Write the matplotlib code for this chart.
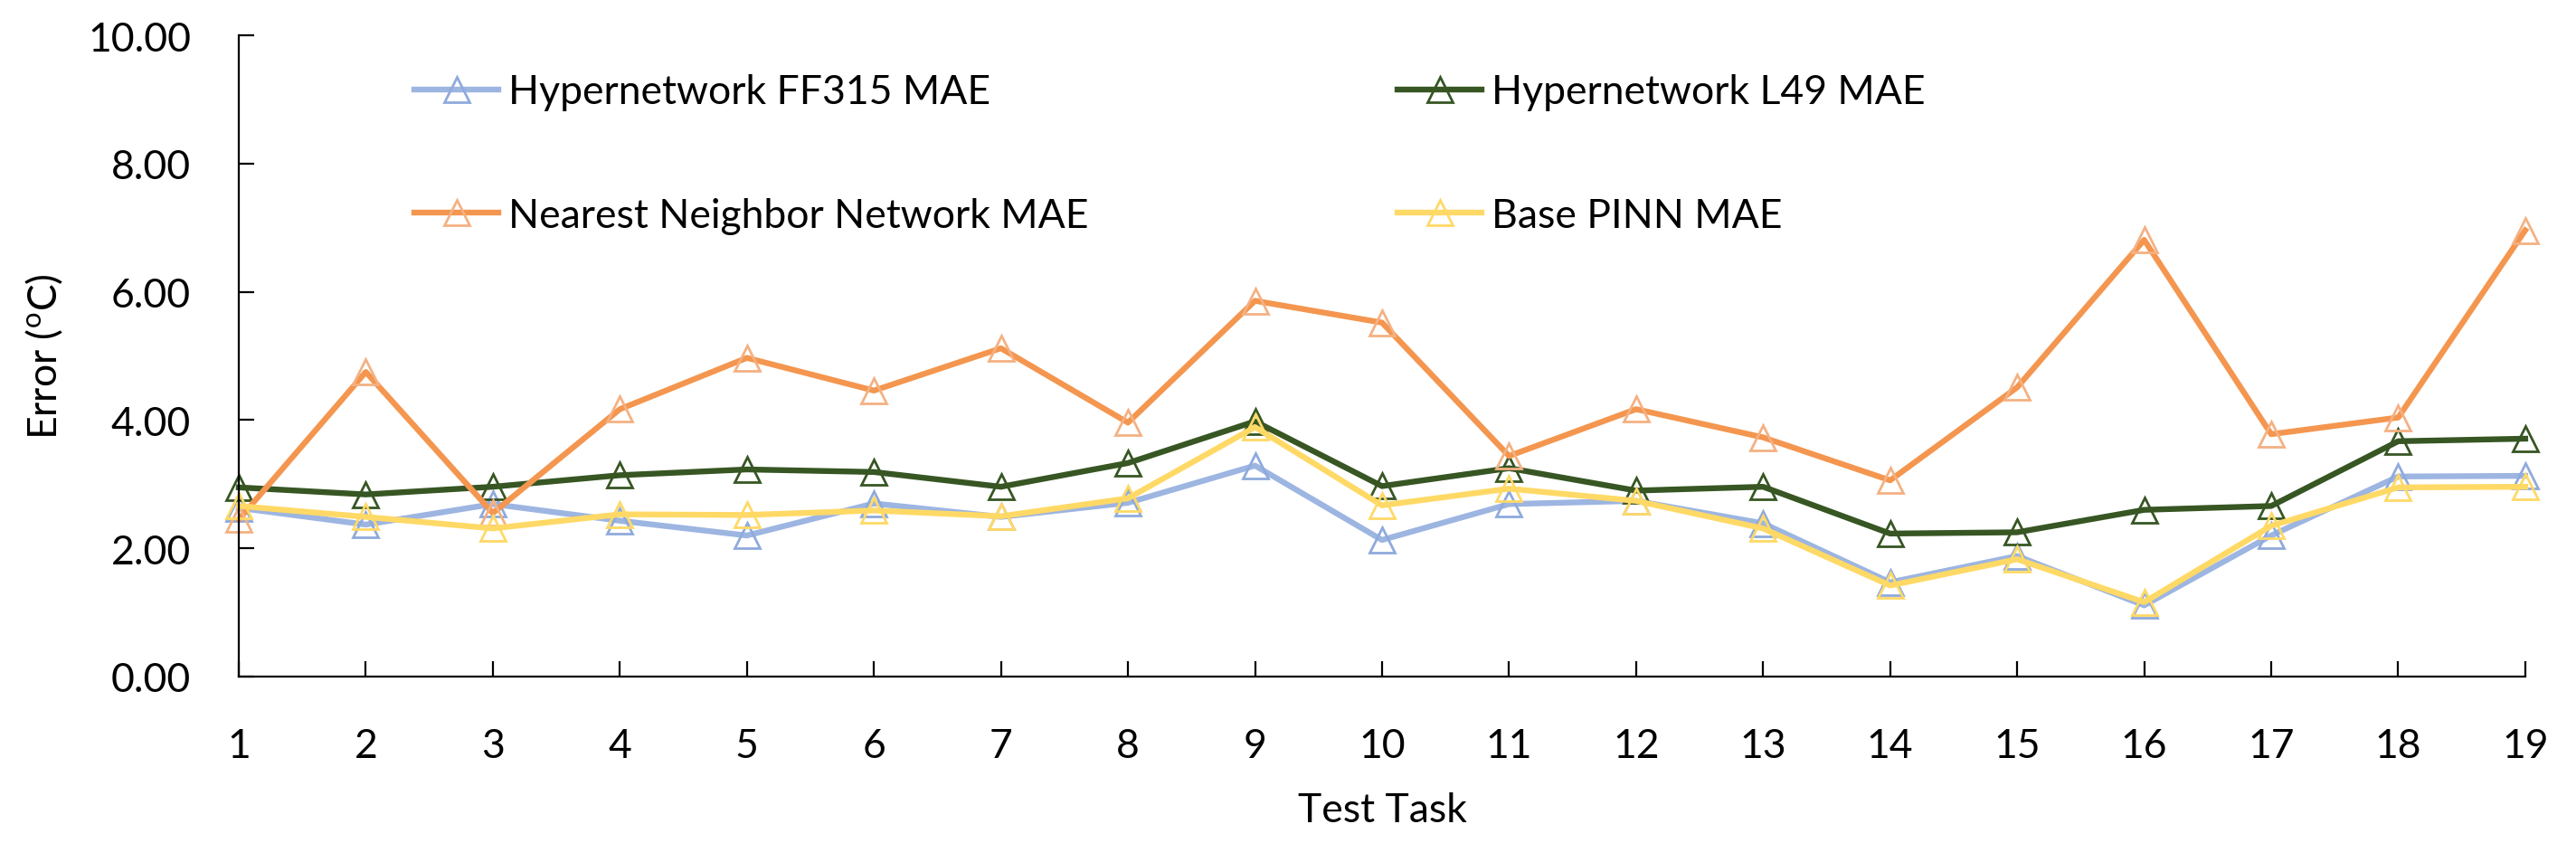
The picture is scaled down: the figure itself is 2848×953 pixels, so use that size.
import numpy as np
import matplotlib
matplotlib.use('Agg')
import matplotlib.pyplot as plt
from matplotlib.ticker import FormatStrFormatter

plt.rcParams['font.family'] = ['Lato', 'DejaVu Sans']
plt.rcParams['mathtext.fontset'] = 'custom'
plt.rcParams['mathtext.rm'] = 'Lato'

# data
tasks = list(range(1, 20))
ff315_mae = [2.63, 2.37, 2.69, 2.43, 2.20, 2.70, 2.49, 2.71, 3.29, 2.13,
             2.69, 2.74, 2.39, 1.47, 1.88, 1.11, 2.20, 3.12, 3.13]
l49_mae = [2.95, 2.84, 2.96, 3.14, 3.23, 3.19, 2.96, 3.33, 3.98, 2.97,
           3.25, 2.90, 2.96, 2.23, 2.25, 2.60, 2.66, 3.67, 3.71]
nn_mae = [2.45, 4.75, 2.55, 4.17, 4.97, 4.46, 5.12, 3.96, 5.86, 5.52,
          3.44, 4.17, 3.73, 3.06, 4.51, 6.81, 3.78, 4.04, 6.96]
pinn_mae = [2.66, 2.49, 2.31, 2.53, 2.52, 2.59, 2.50, 2.78, 3.89, 2.67,
            2.93, 2.74, 2.31, 1.42, 1.83, 1.16, 2.35, 2.95, 2.96]

labels = ['Hypernetwork FF315 MAE', 'Hypernetwork L49 MAE',
          'Nearest Neighbor Network MAE', 'Base PINN MAE']
series = [ff315_mae, l49_mae, nn_mae, pinn_mae]
line_colors = ['#9DB5E1', '#375623', '#F4964F', '#FFD966']
marker_colors = ['#8FAADC', '#375623', '#F4B183', '#FFD966']

fig = plt.figure(figsize=(14.24, 4.77), dpi=200)
ax = fig.add_axes([0.0927, 0.2149, 0.8876, 0.7431])

lines = []
for vals, lab, lc, mc in zip(series, labels, line_colors, marker_colors):
    ln, = ax.plot(tasks, vals, color=lc, lw=2.3, marker='^', markersize=10,
                  markerfacecolor='none', markeredgecolor=mc,
                  markeredgewidth=1.0, label=lab, clip_on=False)
    lines.append(ln)

ax.set_xlim(1, 19)
ax.set_ylim(0, 10)
ax.set_xticks(tasks)
ax.set_yticks(np.arange(0, 10.1, 2))
ax.yaxis.set_major_formatter(FormatStrFormatter('%.2f'))

for s in ['top', 'right']:
    ax.spines[s].set_visible(False)
for s in ['left', 'bottom']:
    ax.spines[s].set_linewidth(0.8)
ax.tick_params(axis='both', direction='in', length=6, width=0.8,
               labelsize=16)
ax.tick_params(axis='y', pad=19)
ax.tick_params(axis='x', pad=20)

ax.set_xlabel('Test Task', fontsize=16, labelpad=11)
ax.set_ylabel(r'Error ($^{\mathrm{o}}$C)', fontsize=16)
ax.yaxis.set_label_coords(-0.076, 0.5)

leg_kw = dict(frameon=False, fontsize=16, handlelength=2.1,
              handletextpad=0.25, labelspacing=2.15, borderpad=0,
              borderaxespad=0, loc='center left')
leg1 = fig.legend([lines[0], lines[2]], [labels[0], labels[2]],
                  bbox_to_anchor=(458 / 2848, 1 - 171 / 954), **leg_kw)
leg2 = fig.legend([lines[1], lines[3]], [labels[1], labels[3]],
                  bbox_to_anchor=(1545 / 2848, 1 - 171 / 954), **leg_kw)

fig.savefig('out.png', dpi=200)
